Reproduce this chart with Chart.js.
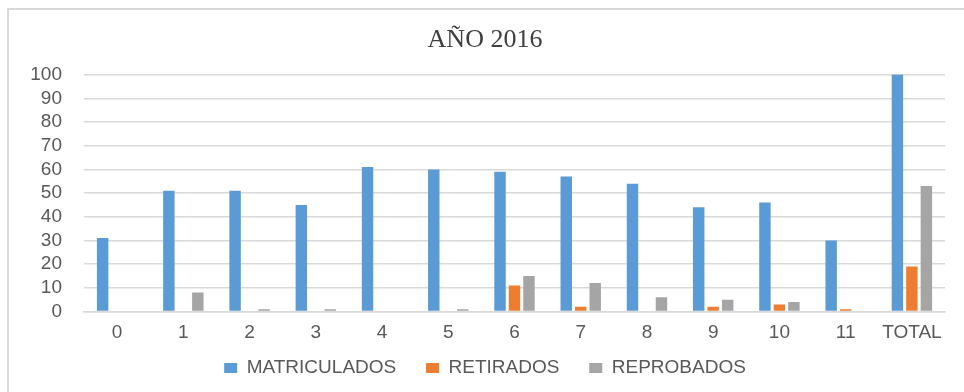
<!DOCTYPE html>
<html>
<head>
<meta charset="utf-8">
<script src="https://cdn.jsdelivr.net/npm/chart.js@4"></script>
<style>
  body { margin: 0; background: #fff; }
  #frame {
    position: absolute; left: 7px; top: 8px; width: 990px; height: 420px;
    border-top: 2px solid #d9d9d9; border-left: 2px solid #d9d9d9;
  }
  #chart { position: absolute; left: 0; top: 0; }
</style>
</head>
<body>
<div id="frame"></div>
<canvas id="chart" width="964" height="392"></canvas>
<script>
const grados = ["0", "1", "2", "3", "4", "5", "6", "7", "8", "9", "10", "11", "TOTAL"];
const matriculados = [31, 51, 51, 45, 61, 60, 59, 57, 54, 44, 46, 30, 589];
const retirados = [0, 0, 0, 0, 0, 0, 11, 2, 0, 2, 3, 1, 19];
const reprobados = [0, 8, 1, 1, 0, 1, 15, 12, 6, 5, 4, 0, 53];

const seriesNames = ["MATRICULADOS", "RETIRADOS", "REPROBADOS"];
const seriesColors = ["#5b9bd5", "#ed7d31", "#a5a5a5"];

const textGray = "#595959";
const gridGray = "#d9d9d9";
const sansFont = "'Liberation Sans', Arial, sans-serif";

const datasets = [matriculados, retirados, reprobados].map((values, i) => ({
  label: seriesNames[i],
  data: values,
  backgroundColor: seriesColors[i],
  borderWidth: 0,
  categoryPercentage: 0.656,
  barPercentage: 0.79,
}));

const ctx = document.getElementById("chart").getContext("2d");

new Chart(ctx, {
  type: "bar",
  data: { labels: grados, datasets: datasets },
  options: {
    responsive: false,
    animation: false,
    layout: { padding: { left: 25, right: 19, top: 0, bottom: 4.5 } },
    plugins: {
      title: {
        display: true,
        text: "AÑO 2016",
        color: "#404040",
        font: { family: "'Liberation Serif', 'Times New Roman', serif", size: 26, weight: "normal" },
        padding: { top: 24.5, bottom: 19 },
      },
      legend: {
        position: "bottom",
        labels: {
          color: textGray,
          font: { family: sansFont, size: 19 },
          boxWidth: 13,
          boxHeight: 10,
          padding: 14,
          // extra room after each entry but the last, keeps rows compact
          generateLabels: (chart) => {
            const items = Chart.defaults.plugins.legend.labels.generateLabels(chart);
            items.forEach((item, i) => {
              if (i < items.length - 1) item.text += "   ";
            });
            return items;
          },
        },
      },
      tooltip: { enabled: false },
    },
    scales: {
      x: {
        grid: { display: false, drawTicks: false },
        border: { display: true, color: gridGray, width: 1.5 },
        ticks: {
          color: textGray,
          font: { family: sansFont, size: 19, lineHeight: 1 },
          padding: 11.5,
          maxRotation: 0,
          autoSkip: false,
        },
        afterFit: (scale) => { scale.height = 33; },
      },
      y: {
        min: 0,
        max: 100,
        grid: { color: gridGray, lineWidth: 1.5, drawTicks: false },
        border: { display: false },
        ticks: {
          stepSize: 10,
          autoSkip: false,
          color: textGray,
          font: { family: sansFont, size: 19 },
          padding: 22,
        },
        afterFit: (scale) => { scale.width = 59; },
      },
    },
  },
});
</script>
</body>
</html>
